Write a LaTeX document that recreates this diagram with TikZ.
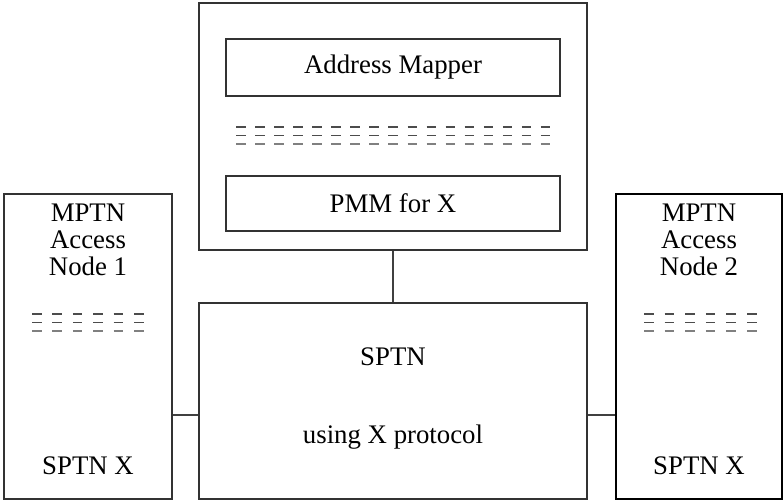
\documentclass[tikz,border=0pt]{standalone}
\usepackage{fontspec}
\setmainfont{Liberation Serif}
\usetikzlibrary{fit}
\tikzset{
  box/.style={draw=black!80, line width=0.55pt, inner sep=0pt},
  darkbox/.style={draw=black, line width=0.75pt, inner sep=0pt},
  lbl/.style={font=\fontsize{13.4}{13.6}\selectfont, align=center, inner sep=0pt},
  link/.style={draw=black!75, line width=0.55pt},
  dashrow/.style={line width=0.8pt},
}
% draws three rows of short dashes: #1 = first x, #2 = period, #3 = count-1, #4 = top y
\newcommand{\dashblock}[4]{%
  \foreach \r/\c in {0/black!70, 1/black!70, 2/black!50} {%
    \foreach \i in {0,...,#3} {%
      \draw[dashrow, \c] ({#1+\i*#2}, {#4+\r*8.5}) -- ++(9.5,0);
    }
  }
}
\begin{document}
\begin{tikzpicture}[x=0.5pt, y=-0.5pt]
  \useasboundingbox (0,0) rectangle (784,500);

  % manager box with its two inner blocks
  \node[box, fit={(199,3)(587,250)}] (mgr) {};
  \node[box, fit={(226,39)(560,96)}] (amap) {};
  \node[lbl] at (amap.center) {Address Mapper};
  \node[box, fit={(226,176)(560,231)}] (pmm) {};
  \node[lbl] at (pmm.center) {PMM for X};
  \dashblock{236}{19.06}{16}{127}

  % single-protocol network in the middle
  \node[box, fit={(199,303)(587,499)}] (sptn) {};
  \node[lbl] (sptnname) at (393,357) {SPTN};
  \node[lbl] (sptnproto) at (393,437) {using X protocol};

  % access nodes on either side
  \node[box, fit={(4,194)(172,499)}] (an1) {};
  \node[lbl] (an1name) at (88,240) {MPTN\\Access\\Node 1};
  \dashblock{32}{20.4}{5}{314}
  \node[lbl] (an1x) at (88,466) {SPTN X};

  \node[darkbox, fit={(616,194)(782,499)}] (an2) {};
  \node[lbl] (an2name) at (699,240) {MPTN\\Access\\Node 2};
  \dashblock{644}{20.6}{5}{314}
  \node[lbl] (an2x) at (699,466) {SPTN X};

  % connectors
  \coordinate (lk) at (0,415);
  \draw[link] (mgr.south) -- (sptn.north);
  \draw[link] (an1.east |- lk) -- (sptn.west |- lk);
  \draw[link] (sptn.east |- lk) -- (an2.west |- lk);
\end{tikzpicture}
\end{document}
